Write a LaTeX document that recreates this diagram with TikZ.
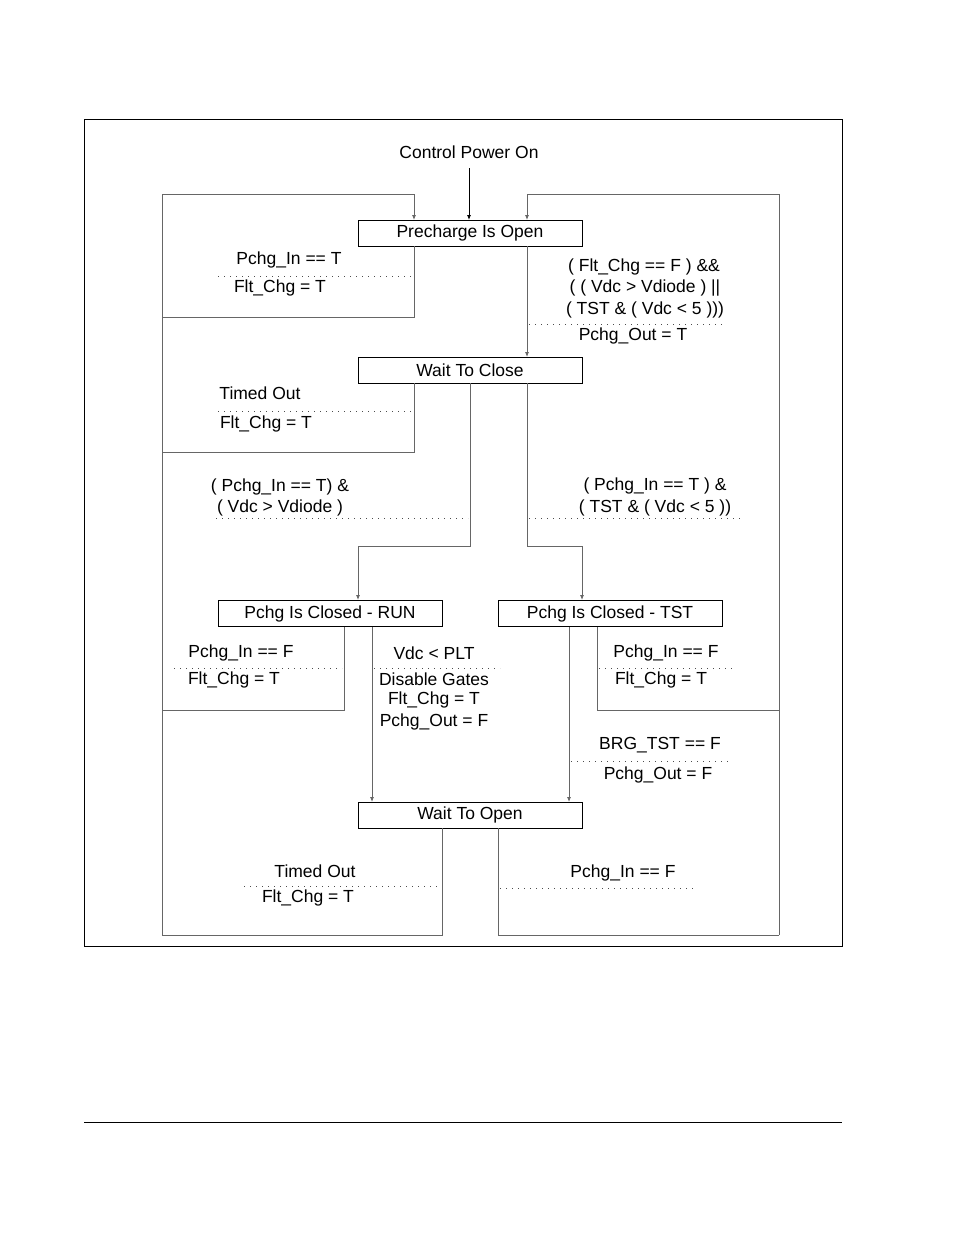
\documentclass[tikz,border=0pt]{standalone}
\usepackage{fontspec}
\setmainfont{Liberation Sans}
\usetikzlibrary{arrows.meta}
\begin{document}
\begin{tikzpicture}[x=1pt,y=-1pt,
  st/.style={draw,thick,minimum width=224pt,minimum height=26pt,inner sep=0pt,font=\fontsize{17.5}{20}\selectfont},
  ln/.style={draw=black!60,line width=0.8pt},
  ar/.style={ln,-{Latex[length=5pt,width=4pt]}},
  dt/.style={draw=black!70,line width=0.9pt,dash pattern=on 1pt off 5pt},
  lb/.style={font=\fontsize{17.5}{20}\selectfont,inner sep=0pt,align=center}]
\useasboundingbox (0,0) rectangle (954,1235);
\draw[thick] (84,119) rectangle (842,946);
\draw[thick] (84,1122) -- (842,1122);
\node[lb] (cpo) at (469,152) {Control Power On};
\node[st] (po) at (470,233) {Precharge Is Open};
\node[st] (wc) at (470,370) {Wait To Close};
\node[st] (run) at (330,613.5) {Pchg Is Closed - RUN};
\node[st] (tst) at (610,613.5) {Pchg Is Closed - TST};
\node[st] (wo) at (470,815) {Wait To Open};
\coordinate (c1) at (469,168);
\coordinate (c2) at (469,220);
\draw[black,-{Latex[length=5pt,width=4pt]},line width=0.8pt] (c1) -- (c2);
\draw[ln] (414,246) -- (414,317) -- (162,317);
\draw[ar] (162,935) -- (162,194) -- (414,194) -- (414,220);
\draw[ar] (779,935) -- (779,194) -- (527,194) -- (527,220);
\draw[ar] (527,246) -- (527,357);
\draw[ln] (414,383) -- (414,452) -- (162,452);
\draw[ar] (470,383) -- (470,546) -- (358,546) -- (358,600);
\draw[ar] (527,383) -- (527,546) -- (582,546) -- (582,600);
\draw[ln] (344,627) -- (344,710) -- (162,710);
\draw[ar] (372,627) -- (372,802);
\draw[ar] (569,627) -- (569,802);
\draw[ln] (597,627) -- (597,710) -- (779,710);
\draw[ln] (442,828) -- (442,935) -- (162,935);
\draw[ln] (498,828) -- (498,935) -- (779,935);
\draw[dt] (218,276) -- (412,276);
\draw[dt] (529,324) -- (722,324);
\draw[dt] (218,411) -- (412,411);
\draw[dt] (216,518) -- (468,518);
\draw[dt] (529,518) -- (740,518);
\draw[dt] (174,668) -- (342,668);
\draw[dt] (374,668) -- (500,668);
\draw[dt] (599,668) -- (736,668);
\draw[dt] (571,761) -- (728,761);
\draw[dt] (244,886) -- (440,886);
\draw[dt] (500,888) -- (694,888);
\node[lb] at (289,260) {Pchg\_In == T};
\node[lb] at (280,288) {Flt\_Chg = T};
\node[lb] at (644,267) {( Flt\_Chg == F ) \&\&};
\node[lb] at (645,288) {( ( Vdc > Vdiode ) ||};
\node[lb] at (645,310) {( TST \& ( Vdc < 5 )))};
\node[lb] at (633,336) {Pchg\_Out = T};
\node[lb] at (260,393) {Timed Out};
\node[lb] at (266,424) {Flt\_Chg = T};
\node[lb] at (280,487) {( Pchg\_In == T) \&};
\node[lb] at (280,508) {( Vdc > Vdiode )};
\node[lb] at (655,486) {( Pchg\_In == T ) \&};
\node[lb] at (655,508) {( TST \& ( Vdc < 5 ))};
\node[lb] at (241,653) {Pchg\_In == F};
\node[lb] at (234,680) {Flt\_Chg = T};
\node[lb] at (434,653) {Vdc < PLT};
\node[lb] at (434,679) {Disable Gates};
\node[lb] at (434,700) {Flt\_Chg = T};
\node[lb] at (434,722) {Pchg\_Out = F};
\node[lb] at (666,653) {Pchg\_In == F};
\node[lb] at (661,680) {Flt\_Chg = T};
\node[lb] at (660,745) {BRG\_TST == F};
\node[lb] at (658,775) {Pchg\_Out = F};
\node[lb] at (315,871) {Timed Out};
\node[lb] at (308,898) {Flt\_Chg = T};
\node[lb] at (623,873) {Pchg\_In == F};
\end{tikzpicture}
\end{document}
